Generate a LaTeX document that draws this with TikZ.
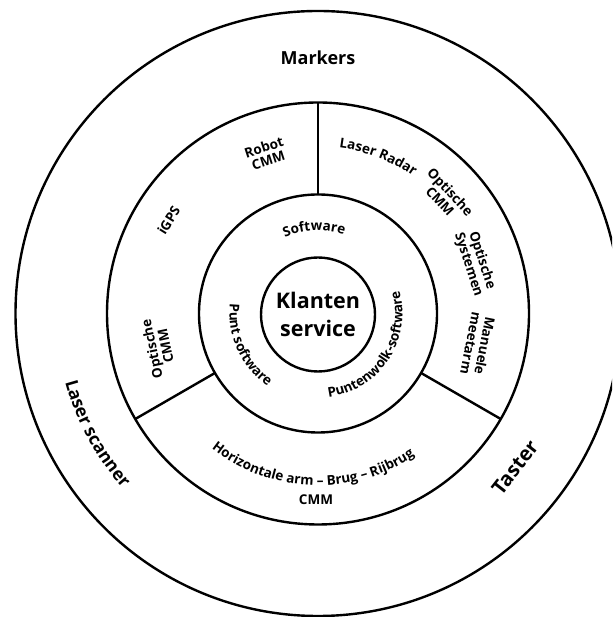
\documentclass[tikz,border=0pt]{standalone}
\usepackage{fontspec}
\setmainfont{Open Sans}
\usetikzlibrary{decorations.text}

\tikzset{
  ring/.style={circle, draw, line width=2.4pt, outer sep=0pt, inner sep=0pt},
  divider/.style={line width=2.4pt},
  lbl/.style={font=\bfseries\fontsize{13.5}{14}\selectfont, align=center, inner sep=0pt},
  biglbl/.style={font=\bfseries\fontsize{18}{19}\selectfont, inner sep=0pt},
  arclabel/.style={decorate, decoration={text along path, text align=center, text={#1}}},
}
\newcommand{\midfont}{\bfseries\fontsize{13.5}{14}\selectfont}
\newcommand{\outfont}{\bfseries\fontsize{17.5}{18}\selectfont}

\begin{document}
\begin{tikzpicture}[x=1pt, y=1pt, shift={(318,303.5)}]
  \useasboundingbox (-318,-303.5) rectangle (294,313.5);
  \clip (-318,-303.5) rectangle (294,313.5);

  % concentric rings
  \node[ring, minimum size=605pt] (outer) at (0,0) {};
  \node[ring, minimum size=422pt] (middle) at (0,0) {};
  \node[ring, minimum size=238pt] (inner) at (0,0) {};
  \node[ring, minimum size=114pt, align=center,
        font=\bfseries\fontsize{21.5}{28}\selectfont] (core) at (0,-1) {Klanten\\service};

  % sector dividers of the middle ring
  \draw[divider] (middle.90)  -- (inner.90);
  \draw[divider] (middle.210) -- (inner.210);
  \draw[divider] (middle.330) -- (inner.330);

  % outer ring labels
  \node[biglbl] (markers) at (0,256) {Markers};
  \path[arclabel={|\outfont|Laser scanner}] (178.5:262) arc[start angle=178.5, end angle=238.5, radius=262];
  \node[biglbl, font=\bfseries\fontsize{20}{21}\selectfont, rotate=52] (taster) at (-38:250) {Taster};

  % middle ring labels
  \node[lbl, rotate=18] (robot) at (108:168) {Robot\\CMM};
  \path[arclabel={|\midfont|Laser Radar}] (109:167) arc[start angle=109, end angle=29, radius=167];
  \node[lbl, rotate=-47] (optcmmr) at (42.6:173) {Optische\\CMM};
  \node[lbl, rotate=-72] (optsys) at (18:165) {Optische\\Systemen};
  \node[lbl, rotate=-101] (manuele) at (-11:163) {Manuele\\meetarm};
  \node[lbl, rotate=58] (igps) at (148:176) {iGPS};
  \node[lbl, rotate=102] (optcmml) at (192:163) {Optische\\CMM};
  \path[arclabel={|\midfont|Horizontale arm – Brug – Rijbrug}] (-152:172) arc[start angle=-152, end angle=-32, radius=172];
  \node[lbl] (cmm) at (-2,-186) {CMM};

  % inner ring labels
  \path[arclabel={|\midfont|Software}] (142.6:83) arc[start angle=142.6, end angle=42.6, radius=83];
  \path[arclabel={|\midfont|Punt software}] (144.5:88.5) arc[start angle=144.5, end angle=264.5, radius=88.5];
  \path[arclabel={|\midfont|Puntenwolk-software}] (-108.5:84.5) arc[start angle=-108.5, end angle=41.5, radius=84.5];
\end{tikzpicture}
\end{document}
